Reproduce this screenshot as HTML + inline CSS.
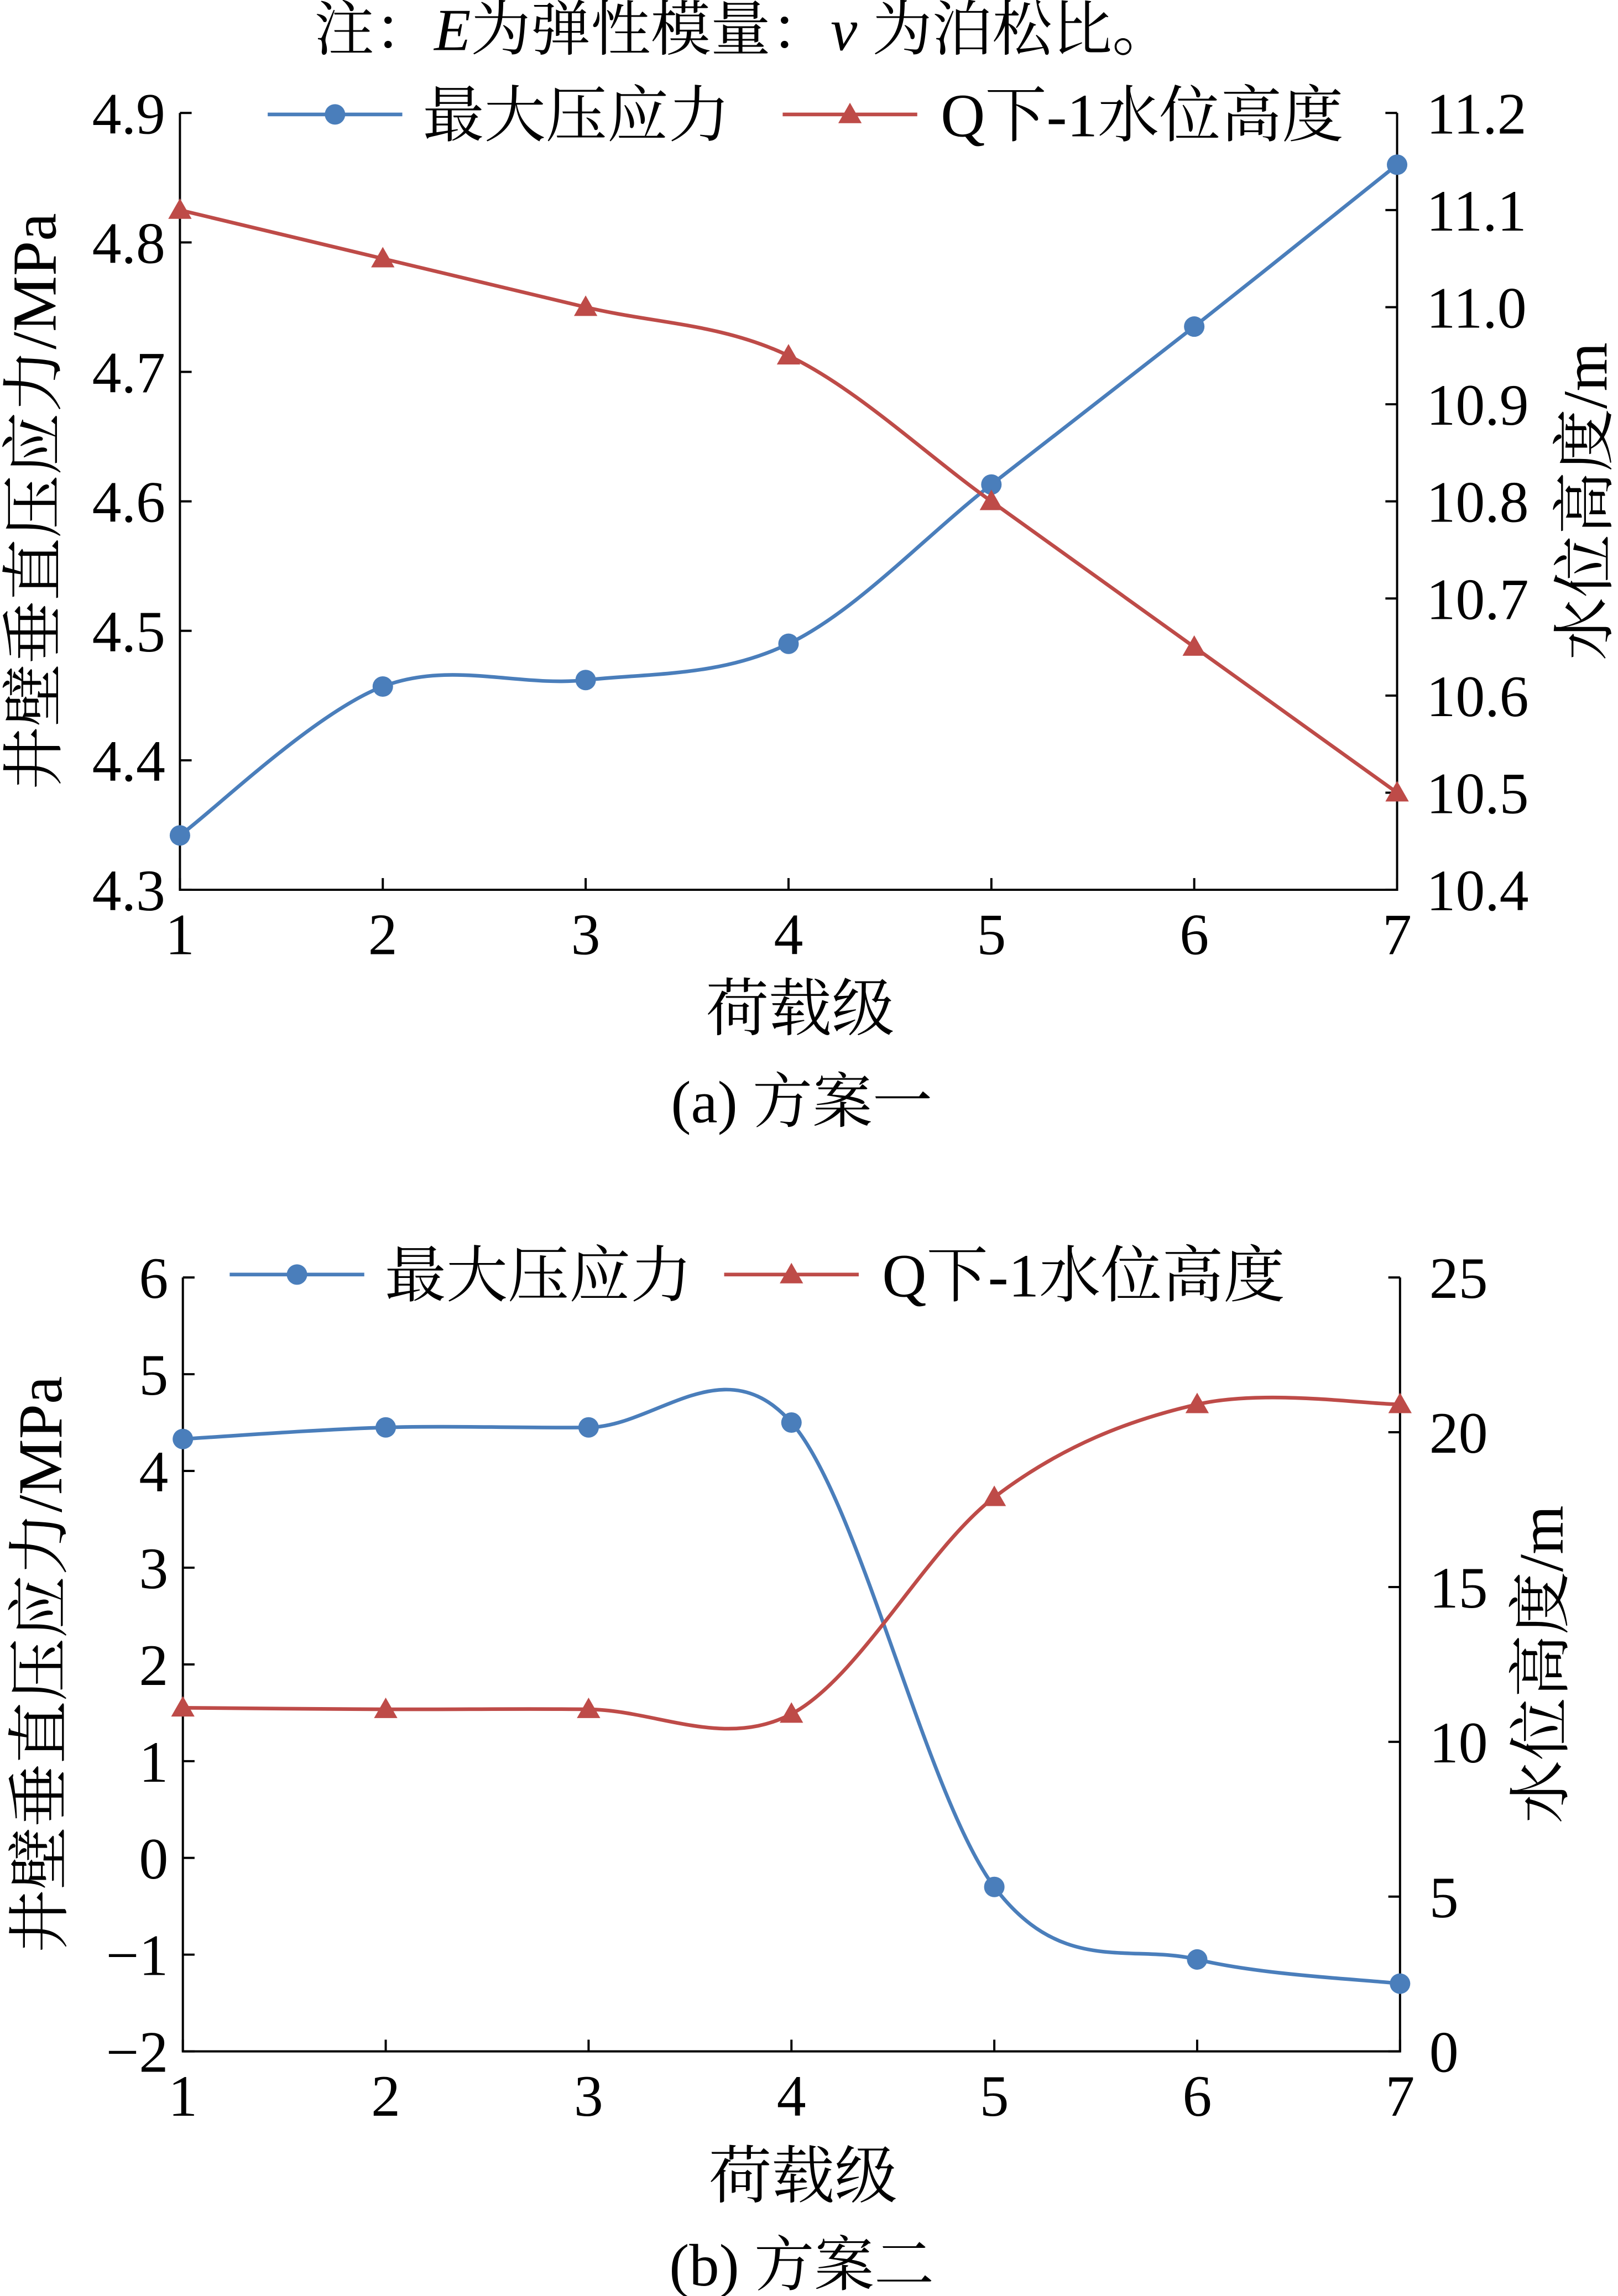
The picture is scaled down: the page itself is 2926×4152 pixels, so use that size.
<!DOCTYPE html>
<html><head><meta charset="utf-8"><style>
html,body{margin:0;padding:0;background:#fff}
svg{display:block}
text{font-family:"Liberation Serif","Noto Serif CJK SC","Noto Sans CJK SC",serif;fill:#000}
</style></head><body>
<svg id="svg" width="2926" height="4152" viewBox="0 0 1106 1569" xmlns="http://www.w3.org/2000/svg">
<text x="508" y="34" font-size="41" text-anchor="middle">注：<tspan font-style="italic">E</tspan>为弹性模量：<tspan font-style="italic">v</tspan> 为泊松比。</text>
<g id="ga"></g>
<g id="gb"></g>
</svg>
<script>
const categories=[1,2,3,4,5,6,7];
const aStress=[4.342,4.457,4.462,4.49,4.613,4.735,4.86];
const aWater=[11.1,11.05,11.0,10.95,10.8,10.65,10.5];
const aLeftTicks=[4.3,4.4,4.5,4.6,4.7,4.8,4.9];
const aRightTicks=[10.4,10.5,10.6,10.7,10.8,10.9,11.0,11.1,11.2];
const bStress=[4.33,4.45,4.45,4.5,-0.3,-1.05,-1.3];
const bWater=[11.1,11.05,11.05,10.9,17.9,20.9,20.9];
const bLeftTicks=[-2,-1,0,1,2,3,4,5,6];
const bRightTicks=[0,5,10,15,20,25];
const NS='http://www.w3.org/2000/svg';
function mk(p,tag,at,txt){const e=document.createElementNS(NS,tag);for(const k in at)e.setAttribute(k,at[k]);if(txt!==undefined)e.textContent=txt;p.appendChild(e);return e;}
function smooth(pts){let d='M'+pts[0][0]+','+pts[0][1];for(let i=0;i<pts.length-1;i++){const p0=pts[i-1]||pts[i],p1=pts[i],p2=pts[i+1],p3=pts[i+2]||p2;const c1=[p1[0]+(p2[0]-p0[0])/6,p1[1]+(p2[1]-p0[1])/6],c2=[p2[0]-(p3[0]-p1[0])/6,p2[1]-(p3[1]-p1[1])/6];d+=' C'+c1+' '+c2+' '+p2;}return d;}
function chart(g,o){
 const {x0,x1,y0,y1,lmin,lmax,rmin,rmax,lt,rt,ld,rd,lfmt,rfmt,legY,legX,leg2,cap,capY,xlabY,ylx,yrx}=o;
 const FS=40;
 const X=v=>x0+(v-1)/(categories.length-1)*(x1-x0);
 const YL=v=>y1-(v-lmin)/(lmax-lmin)*(y1-y0);
 const YR=v=>y1-(v-rmin)/(rmax-rmin)*(y1-y0);
 const ax=mk(g,'path',{d:`M${x0},${y0}V${y1}H${x1}V${y0}`,fill:'none',stroke:'#000','stroke-width':1.5});
 
 lt.forEach(v=>{const y=YL(v);mk(g,'line',{x1:x0,x2:x0+8,y1:y,y2:y,stroke:'#000','stroke-width':1.5});
  const t=mk(g,'text',{x:x0-10,y:y+14,'font-size':FS,'text-anchor':'end'},lfmt(v));});
 rt.forEach(v=>{const y=YR(v);mk(g,'line',{x1:x1,x2:x1-8,y1:y,y2:y,stroke:'#000','stroke-width':1.5});
  const t=mk(g,'text',{x:x1+20,y:y+14,'font-size':FS},rfmt(v));});
 categories.forEach(c=>{const x=X(c);mk(g,'line',{x1:x,x2:x,y1:y1,y2:y1-8,stroke:'#000','stroke-width':1.5});
  const t=mk(g,'text',{x:x,y:y1+44,'font-size':FS,'text-anchor':'middle'},c);});
 const xl=mk(g,'text',{x:(x0+x1)/2+8,y:xlabY,'font-size':43,'text-anchor':'middle'},'荷载级');
 const cy=(y0+y1)/2;
 const yl=mk(g,'text',{x:0,y:0,'font-size':43,'text-anchor':'middle',transform:`translate(${ylx},${cy}) rotate(-90)`},'井壁垂直压应力/MPa');
 const yr=mk(g,'text',{x:0,y:0,'font-size':43,'text-anchor':'middle',transform:`translate(${yrx},${cy}) rotate(-90)`},'水位高度/m');
 const cp=mk(g,'text',{x:548,y:capY,'font-size':41,'text-anchor':'middle','xml:space':'preserve'},cap);
 const bp=ld.map((v,i)=>[X(categories[i]),YL(v)]);
 const rp=rd.map((v,i)=>[X(categories[i]),YR(v)]);
 const l1=mk(g,'path',{d:smooth(bp),fill:'none',stroke:'#4a7ebb','stroke-width':2.5});
 const l2=mk(g,'path',{d:smooth(rp),fill:'none',stroke:'#be4b48','stroke-width':2.5});
 bp.forEach(p=>{const c=mk(g,'circle',{cx:p[0],cy:p[1],r:7,fill:'#4a7ebb'});});
 rp.forEach(p=>{const c=mk(g,'path',{d:`M${p[0]},${p[1]-8}L${p[0]+8},${p[1]+6}L${p[0]-8},${p[1]+6}Z`,fill:'#be4b48'});});
 const L=legX;
 mk(g,'line',{x1:L,x2:L+92,y1:legY,y2:legY,stroke:'#4a7ebb','stroke-width':2.5});
 mk(g,'circle',{cx:L+46,cy:legY,r:7,fill:'#4a7ebb'});
 const t1=mk(g,'text',{x:L+106,y:legY+15,'font-size':42},'最大压应力');
 const L2=L+leg2;
 mk(g,'line',{x1:L2,x2:L2+92,y1:legY,y2:legY,stroke:'#be4b48','stroke-width':2.5});
 mk(g,'path',{d:`M${L2+46},${legY-8}L${L2+54},${legY+6}L${L2+38},${legY+6}Z`,fill:'#be4b48'});
 const t2=mk(g,'text',{x:L2+108,y:legY+15,'font-size':42},'Q下-1水位高度');
}
chart(document.getElementById('ga'),{x0:123,x1:955,y0:77,y1:608,lmin:4.3,lmax:4.9,rmin:10.4,rmax:11.2,lt:aLeftTicks,rt:aRightTicks,ld:aStress,rd:aWater,lfmt:v=>v.toFixed(1),rfmt:v=>v.toFixed(1),legY:78,legX:183,leg2:352,cap:'(a)  方案一',capY:767,xlabY:704,ylx:38,yrx:1098});
chart(document.getElementById('gb'),{x0:125,x1:957,y0:873,y1:1402,lmin:-2,lmax:6,rmin:0,rmax:25,lt:bLeftTicks,rt:bRightTicks,ld:bStress,rd:bWater,lfmt:v=>v<0?'−'+(-v):''+v,rfmt:v=>''+v,legY:871,legX:157,leg2:338,cap:'(b)  方案二',capY:1562,xlabY:1502,ylx:42,yrx:1068});
</script>
</body></html>
